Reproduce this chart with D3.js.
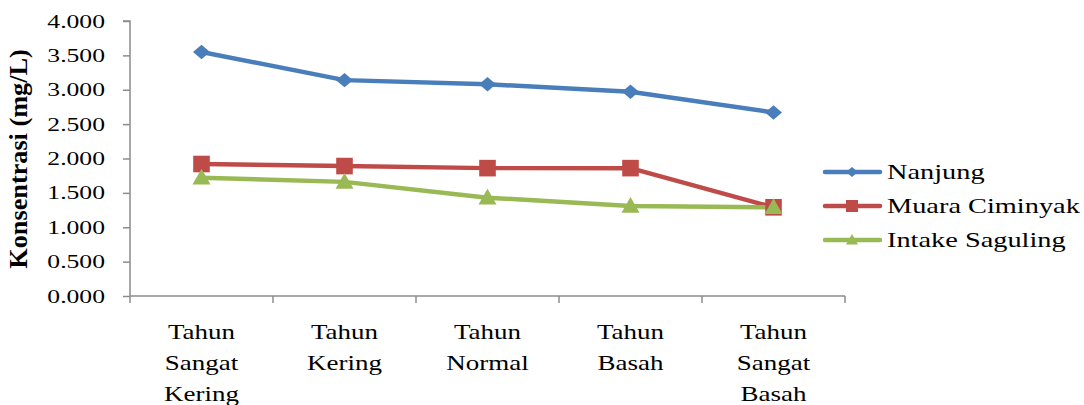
<!DOCTYPE html>
<html><head><meta charset="utf-8">
<script src="https://cdn.jsdelivr.net/npm/d3@7"></script>
<style>body{margin:0;background:#fff}svg{display:block}</style>
</head><body><svg id="c" width="1084" height="405" font-family="Liberation Serif"></svg>
<script>
const categories = ["Tahun Sangat Kering","Tahun Kering","Tahun Normal","Tahun Basah","Tahun Sangat Basah"];
const categoryLines = [["Tahun","Sangat","Kering"],["Tahun","Kering"],["Tahun","Normal"],["Tahun","Basah"],["Tahun","Sangat","Basah"]];
const seriesNames = ["Nanjung","Muara Ciminyak","Intake Saguling"];
const nanjung = [3.55, 3.14, 3.08, 2.97, 2.67];
const muaraCiminyak = [1.92, 1.89, 1.86, 1.86, 1.29];
const intakeSaguling = [1.72, 1.66, 1.43, 1.31, 1.29];
const yTicks = [0, 0.5, 1, 1.5, 2, 2.5, 3, 3.5, 4];
const colors = ["#4a7ebb", "#be4b48", "#98b954"];
const markers = ["diamond", "square", "triangle"];
const yTitle = "Konsentrasi (mg/L)";

const FONT = "Liberation Serif";
const svg = d3.select("#c");
const x = d3.scaleBand().domain(categories).range([130, 845]).padding(0);
const y = d3.scaleLinear().domain([0, 4]).range([296, 21]);
const cx = c => x(c) + x.bandwidth() / 2;
const axisColor = "#8c8c8c";
const SX = 1.35;

// text helper: places a horizontally stretched text at (px,py)
function addText(parent, px, py, str, size, anchor, weight) {
  return parent.append("text")
    .attr("transform", `translate(${px},${py}) scale(${SX},1)`)
    .attr("text-anchor", anchor || "start")
    .attr("font-family", FONT).attr("font-size", size)
    .attr("font-weight", weight || "normal").attr("fill", "#000").text(str);
}

// Y axis (lines from d3 axis, labels drawn stretched)
const ya = svg.append("g").attr("transform", "translate(130,0)")
  .call(d3.axisLeft(y).tickValues(yTicks).tickFormat("").tickSize(7));
ya.select(".domain").attr("stroke", axisColor).attr("stroke-width", 1.5).attr("d", `M-7,${y(4)}H0V${y(0)}`);
ya.selectAll(".tick line").attr("stroke", axisColor).attr("stroke-width", 1.5);
const fmt = d3.format(".3f");
yTicks.forEach(v => addText(svg, 105, y(v) + 6.5, fmt(v), 19, "end"));

// X axis
const xg = svg.append("g");
xg.append("line").attr("x1", 130).attr("x2", 845).attr("y1", y(0)).attr("y2", y(0)).attr("stroke", axisColor).attr("stroke-width", 1.5);
const bounds = categories.map(c => x(c)).concat([x.range()[1]]);
xg.selectAll(".bt").data(bounds).join("line").attr("x1", d => d).attr("x2", d => d)
  .attr("y1", y(0)).attr("y2", y(0) + 7).attr("stroke", axisColor).attr("stroke-width", 1.5);
categories.forEach((c, i) => {
  categoryLines[i].forEach((ln, j) => addText(xg, cx(c), 339 + j * 31, ln, 20, "middle"));
});

// Y title
svg.append("text").attr("transform", "translate(27,159) rotate(-90) scale(1.25,1.22)")
  .attr("text-anchor", "middle").attr("font-family", FONT).attr("font-size", 21).attr("font-weight", "bold")
  .attr("fill", "#000").text(yTitle);

function markerPath(type, s) {
  if (type === "diamond") return `M0,${-s*0.85}L${s},0L0,${s*0.85}L${-s},0Z`;
  if (type === "square") return `M${-s},${-s}H${s}V${s}H${-s}Z`;
  return `M0,${-s}L${s},${s*0.75}H${-s}Z`;
}
const msize = [8.5, 8.3, 9];

const allSeries = [nanjung, muaraCiminyak, intakeSaguling];
const line = d3.line().x((d, i) => cx(categories[i])).y(d => y(d));
allSeries.forEach((vals, k) => {
  svg.append("path").datum(vals).attr("d", line).attr("fill", "none")
    .attr("stroke", colors[k]).attr("stroke-width", 4.5).attr("stroke-linejoin", "round");
});
allSeries.forEach((vals, k) => {
  svg.selectAll(".m" + k).data(vals).join("path")
    .attr("transform", (d, i) => `translate(${cx(categories[i])},${y(d)})`)
    .attr("d", markerPath(markers[k], msize[k])).attr("fill", colors[k]);
});

// Legend
const lg = svg.append("g");
seriesNames.forEach((n, k) => {
  const ly = 172 + k * 34;
  lg.append("line").attr("x1", 825).attr("x2", 880).attr("y1", ly).attr("y2", ly)
    .attr("stroke", colors[k]).attr("stroke-width", 4.5).attr("stroke-linecap", "round");
  lg.append("path").attr("transform", `translate(852,${ly})`).attr("d", markerPath(markers[k], 6)).attr("fill", colors[k]);
  addText(lg, 887, ly + 7, n, 21, "start");
});
</script></body></html>
